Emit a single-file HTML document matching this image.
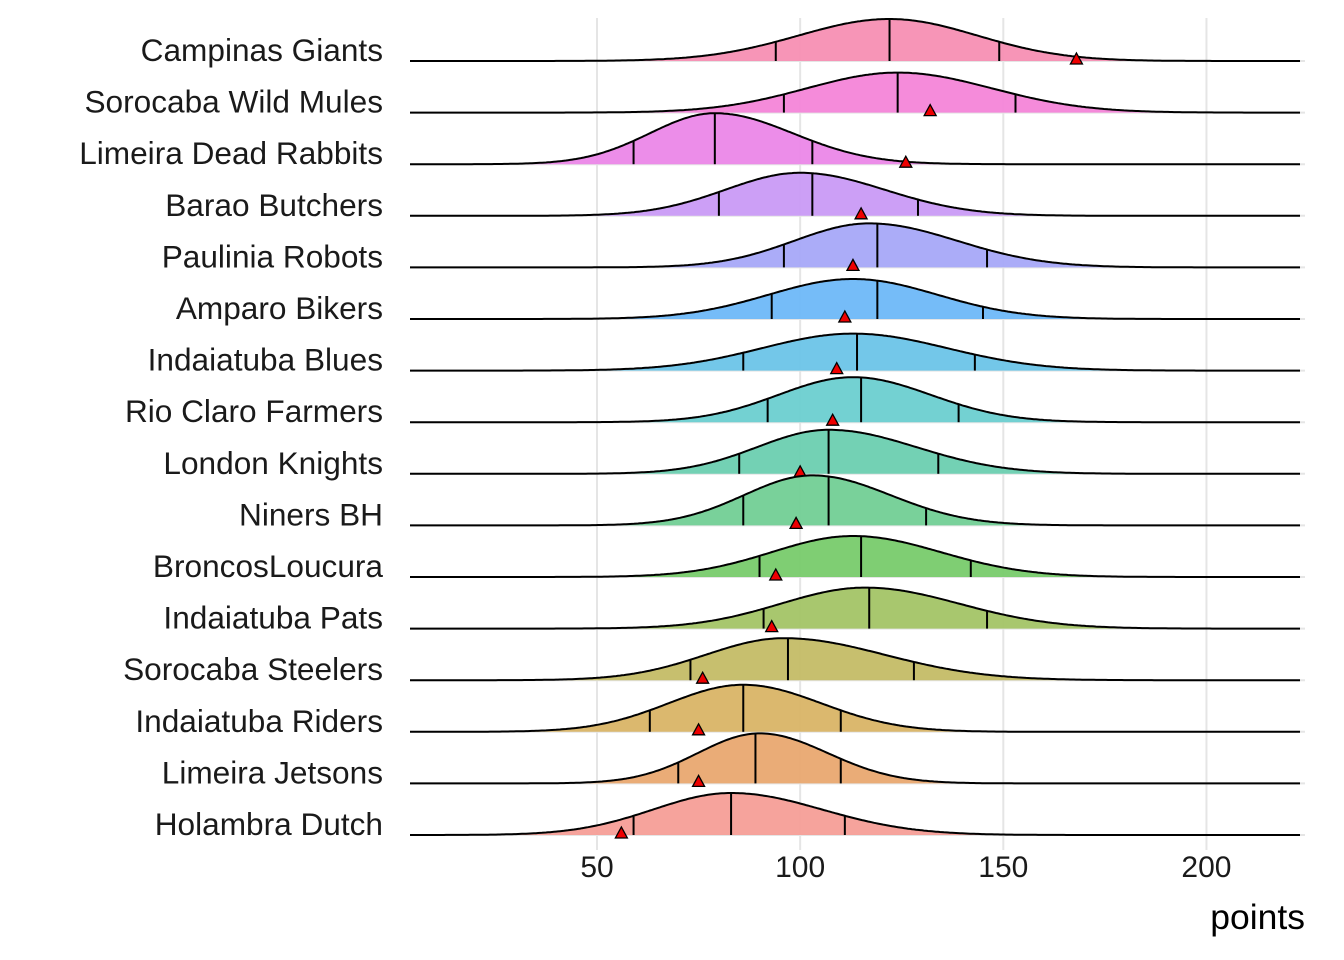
<!DOCTYPE html>
<html><head><meta charset="utf-8"><style>
body{margin:0;background:#fff}
svg{display:block;font-family:"Liberation Sans",Arial,sans-serif}
</style></head><body>
<svg id="s" width="1344" height="960" xmlns="http://www.w3.org/2000/svg"></svg>
<script>
const S=document.getElementById('s');
const X=v=>597+(v-50)*4.063;
const d=[
["Campinas Giants",94,122,149,122,42,168,"#F78FB3"],
["Sorocaba Wild Mules",96,124,153,124,40,132,"#F485D8"],
["Limeira Dead Rabbits",59,79,103,79,51,126,"#EB87E8"],
["Barao Butchers",80,103,129,100,43,115,"#C99AF5"],
["Paulinia Robots",96,119,146,117,44,113,"#A6A8F8"],
["Amparo Bikers",93,119,145,113,40,111,"#6EB8F8"],
["Indaiatuba Blues",86,114,143,113,37,109,"#6CC4E8"],
["Rio Claro Farmers",92,115,139,113,45,108,"#6CCFD0"],
["London Knights",85,107,134,107,44,100,"#6CCFB0"],
["Niners BH",86,107,131,103,50,99,"#72CF95"],
["BroncosLoucura",90,115,142,113,41,94,"#78CB6C"],
["Indaiatuba Pats",91,117,146,116,41,93,"#A3C466"],
["Sorocaba Steelers",73,97,128,96,42,76,"#C4BC66"],
["Indaiatuba Riders",63,86,110,86,47,75,"#D9B466"],
["Limeira Jetsons",70,89,110,90,50,75,"#E9A870"],
["Holambra Dutch",59,83,111,83,42,56,"#F59E97"]];
let h='';
[50,100,150,200].forEach(v=>{h+=`<line x1="${X(v)}" x2="${X(v)}" y1="18" y2="850" stroke="#e5e5e5" stroke-width="2"/>`;
h+=`<text x="${X(v)}" y="877" font-size="30" text-anchor="middle" fill="#1a1a1a">${v}</text>`;});
d.forEach((r,i)=>{const b=61+i*51.6;h+=`<line x1="410" x2="1305" y1="${b}" y2="${b}" stroke="#e5e5e5" stroke-width="2"/>`;
h+=`<text x="383" y="${b}" font-size="31.6" text-anchor="end" fill="#1a1a1a">${r[0]}</text>`;});
d.forEach((r,i)=>{const b=61+i*51.6;const[n,q1,m,q3,mo,H,t,c]=r;
const sl=(m-q1)*0.8,sr=(q3-m)*0.8;
const f=v=>{const s=v<mo?sl:sr;return b-H*Math.exp(-0.5*((v-mo)/s)**2);};
let pts=[];for(let px=410;px<=1300;px+=2){const v=50+(px-597)/4.063;pts.push(px+','+f(v).toFixed(1));}
h+=`<path d="M410,${b} L${pts.join(' L')} L1300,${b} Z" fill="${c}" stroke="none" opacity="0.95"/>`;
h+=`<path d="M${pts.join(' L')}" fill="none" stroke="#000" stroke-width="2"/>`;
[q1,m,q3].forEach(v=>{h+=`<line x1="${X(v)}" x2="${X(v)}" y1="${b}" y2="${f(v)}" stroke="#000" stroke-width="2"/>`;});
const tx=X(t);h+=`<path d="M${tx-6},${b+3} L${tx+6},${b+3} L${tx},${b-8} Z" fill="#e00" stroke="#000" stroke-width="1.3"/>`;
});
h+=`<text x="1305" y="929" font-size="35.5" text-anchor="end" fill="#000">points</text>`;
S.innerHTML=h;
</script>
</body></html>
